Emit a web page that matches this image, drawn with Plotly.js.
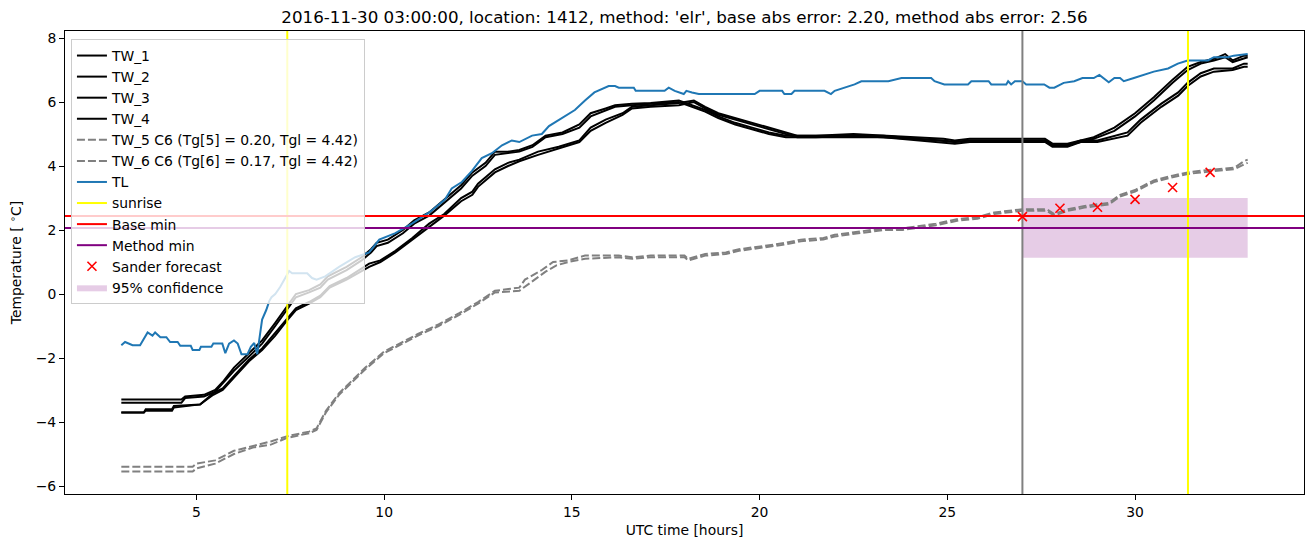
<!DOCTYPE html>
<html>
<head>
<meta charset="utf-8">
<script src="https://cdn.plot.ly/plotly-3.0.1.min.js"></script>
<style>html,body{margin:0;padding:0;background:#fff;}#chart{width:1313px;height:547px;}</style>
</head>
<body>
<div id="chart"></div>
<script>
// ---- data: [hour, temperature] ----
const TW_1 = [[3,-3.3],[4.6,-3.3],[4.7,-3.2],[5.2,-3.15],[5.5,-3.0],[5.7,-2.75],[6.0,-2.3],[6.4,-1.85],[6.75,-1.45],[7.1,-0.9],[7.4,-0.4],[7.65,0.0],[8.0,0.12],[8.3,0.3],[8.5,0.55],[9.0,0.85],[9.4,1.15],[9.65,1.4],[9.8,1.6],[10.1,1.7],[10.5,2.0],[10.8,2.3],[11.2,2.55],[11.6,2.95],[12.05,3.4],[12.35,3.8],[12.7,4.1],[12.95,4.45],[13.3,4.45],[13.6,4.5],[13.95,4.65],[14.3,4.95],[14.75,5.05],[15.2,5.3],[15.5,5.65],[15.9,5.8],[16.15,5.9],[16.6,5.95],[17.1,5.97],[17.85,6.05],[18.2,5.9],[18.55,5.75],[18.9,5.55],[19.35,5.35],[19.8,5.2],[20.25,5.05],[20.7,4.95],[21.5,4.95],[22.5,5.0],[23.3,4.95],[24.9,4.85],[25.2,4.8],[25.6,4.85],[27.6,4.85],[27.8,4.7],[28.2,4.7],[28.55,4.8],[28.9,4.9],[29.45,5.2],[30.0,5.65],[30.5,6.15],[31.0,6.7],[31.4,7.1],[31.75,7.25],[32.1,7.35],[32.4,7.5],[32.6,7.3],[32.9,7.45],[33.0,7.45]];
const TW_2 = [[3,-3.4],[4.6,-3.4],[4.7,-3.25],[5.2,-3.2],[5.5,-3.05],[5.7,-2.8],[6.0,-2.4],[6.4,-1.95],[6.75,-1.55],[7.1,-1.0],[7.4,-0.5],[7.65,-0.1],[8.0,0.05],[8.3,0.2],[8.5,0.45],[9.0,0.75],[9.4,1.05],[9.65,1.3],[9.8,1.5],[10.1,1.6],[10.5,1.9],[10.8,2.2],[11.2,2.45],[11.6,2.85],[12.05,3.3],[12.35,3.7],[12.7,4.0],[12.95,4.35],[13.3,4.4],[13.6,4.45],[13.95,4.6],[14.3,4.9],[14.75,5.0],[15.2,5.2],[15.5,5.55],[15.9,5.75],[16.15,5.85],[16.6,5.9],[17.1,5.95],[17.85,6.0],[18.2,5.85],[18.55,5.7],[18.9,5.5],[19.35,5.3],[19.8,5.15],[20.25,5.0],[20.7,4.9],[21.5,4.9],[22.5,4.95],[23.3,4.9],[24.9,4.8],[25.2,4.75],[25.6,4.8],[27.6,4.8],[27.8,4.65],[28.2,4.65],[28.55,4.75],[28.9,4.85],[29.45,5.1],[30.0,5.55],[30.5,6.05],[31.0,6.6],[31.4,7.0],[31.75,7.2],[32.1,7.3],[32.4,7.4],[32.6,7.25],[32.9,7.35],[33.0,7.4]];
const TW_3 = [[3,-3.7],[3.6,-3.7],[3.65,-3.6],[4.35,-3.6],[4.4,-3.5],[5.1,-3.45],[5.45,-3.1],[5.7,-2.95],[6.05,-2.5],[6.4,-2.05],[6.75,-1.7],[7.1,-1.2],[7.4,-0.8],[7.65,-0.45],[8.0,-0.25],[8.3,-0.05],[8.55,0.25],[9.0,0.5],[9.6,0.95],[9.9,1.05],[10.3,1.35],[10.75,1.75],[11.2,2.2],[11.6,2.5],[12.05,3.0],[12.35,3.2],[12.5,3.45],[12.95,3.9],[13.3,4.1],[13.6,4.2],[14.1,4.45],[14.65,4.6],[15.2,4.8],[15.5,5.2],[15.9,5.45],[16.35,5.65],[16.6,5.85],[17.1,5.9],[17.85,5.97],[18.25,6.05],[18.55,5.85],[18.9,5.65],[19.35,5.5],[19.8,5.35],[20.25,5.2],[20.7,5.05],[21.0,4.95],[23.3,4.95],[24.9,4.8],[25.2,4.75],[25.6,4.8],[27.6,4.8],[27.8,4.65],[28.2,4.65],[28.55,4.8],[29.0,4.8],[29.8,5.05],[30.15,5.45],[30.7,5.95],[31.15,6.3],[31.4,6.6],[31.75,6.9],[32.1,7.05],[32.6,7.05],[32.9,7.2],[33.0,7.2]];
const TW_4 = [[3,-3.7],[3.6,-3.7],[3.65,-3.65],[4.35,-3.65],[4.4,-3.55],[5.1,-3.45],[5.45,-3.15],[5.7,-3.0],[6.05,-2.55],[6.4,-2.1],[6.75,-1.75],[7.1,-1.3],[7.4,-0.85],[7.65,-0.5],[8.0,-0.3],[8.3,-0.1],[8.55,0.2],[9.0,0.45],[9.6,0.85],[9.9,1.0],[10.3,1.3],[10.75,1.7],[11.2,2.1],[11.6,2.45],[12.05,2.9],[12.35,3.1],[12.5,3.35],[12.95,3.8],[13.3,4.0],[13.6,4.15],[14.1,4.35],[14.65,4.55],[15.2,4.75],[15.5,5.1],[15.9,5.35],[16.35,5.6],[16.6,5.8],[17.1,5.85],[17.85,5.9],[18.25,6.0],[18.55,5.8],[18.9,5.6],[19.35,5.45],[19.8,5.3],[20.25,5.15],[20.7,5.0],[21.0,4.9],[23.3,4.9],[24.9,4.75],[25.2,4.7],[25.6,4.75],[27.6,4.75],[27.8,4.6],[28.2,4.6],[28.55,4.75],[29.0,4.75],[29.8,4.95],[30.15,5.35],[30.7,5.85],[31.15,6.2],[31.4,6.5],[31.75,6.8],[32.1,6.95],[32.6,7.0],[32.9,7.1],[33.0,7.1]];
const TW_5 = [[3,-5.4],[4.9,-5.4],[5.0,-5.3],[5.5,-5.2],[6.0,-4.9],[6.5,-4.75],[7.0,-4.6],[7.4,-4.45],[8.0,-4.3],[8.2,-4.2],[8.45,-3.65],[8.8,-3.1],[9.15,-2.7],[9.5,-2.3],[10.0,-1.8],[10.5,-1.5],[10.9,-1.25],[11.45,-0.95],[12.0,-0.6],[12.5,-0.25],[12.95,0.1],[13.6,0.2],[13.75,0.45],[14.2,0.75],[14.5,1.0],[14.9,1.05],[15.35,1.2],[16.25,1.2],[16.6,1.15],[17.1,1.2],[18.0,1.2],[18.1,1.1],[18.55,1.25],[19.1,1.3],[19.45,1.4],[20.1,1.5],[20.7,1.6],[21.1,1.7],[21.7,1.75],[22.0,1.85],[22.6,1.95],[23.3,2.05],[23.8,2.05],[24.7,2.2],[25.3,2.35],[25.8,2.4],[26.25,2.55],[26.7,2.6],[27.0,2.65],[27.65,2.65],[27.85,2.5],[28.2,2.65],[28.65,2.75],[29.3,2.85],[29.6,3.1],[30.0,3.25],[30.5,3.55],[31.0,3.7],[31.4,3.8],[31.75,3.85],[32.3,3.9],[32.65,3.95],[32.9,4.15],[33.0,4.2]];
const TW_6 = [[3,-5.55],[4.9,-5.55],[5.0,-5.45],[5.5,-5.3],[6.0,-5.0],[6.5,-4.8],[7.0,-4.7],[7.4,-4.5],[8.0,-4.35],[8.2,-4.25],[8.45,-3.7],[8.8,-3.15],[9.15,-2.75],[9.5,-2.35],[10.0,-1.85],[10.5,-1.55],[10.9,-1.3],[11.45,-1.0],[12.0,-0.65],[12.5,-0.3],[12.95,0.05],[13.6,0.1],[13.9,0.35],[14.3,0.7],[14.6,0.9],[14.9,1.0],[15.35,1.1],[16.25,1.15],[16.6,1.1],[17.1,1.15],[18.0,1.15],[18.1,1.05],[18.55,1.2],[19.1,1.25],[19.45,1.35],[20.1,1.45],[20.7,1.55],[21.1,1.65],[21.7,1.7],[22.0,1.8],[22.6,1.9],[23.3,2.0],[23.8,2.0],[24.7,2.15],[25.3,2.3],[25.8,2.35],[26.25,2.5],[26.7,2.55],[27.0,2.6],[27.65,2.6],[27.85,2.45],[28.2,2.6],[28.65,2.7],[29.3,2.8],[29.6,3.05],[30.0,3.2],[30.5,3.5],[31.0,3.65],[31.4,3.75],[31.75,3.8],[32.3,3.85],[32.65,3.9],[32.9,4.05],[33.0,4.1]];
const TL = [[3.0,-1.6],[3.1,-1.5],[3.3,-1.6],[3.5,-1.6],[3.7,-1.2],[3.83,-1.3],[3.9,-1.2],[4.04,-1.35],[4.2,-1.35],[4.3,-1.5],[4.5,-1.5],[4.57,-1.62],[4.85,-1.62],[4.9,-1.75],[5.08,-1.75],[5.12,-1.65],[5.4,-1.65],[5.45,-1.55],[5.69,-1.55],[5.77,-1.85],[5.87,-1.55],[6.0,-1.45],[6.1,-1.55],[6.2,-1.88],[6.36,-1.88],[6.45,-1.65],[6.54,-1.53],[6.62,-1.88],[6.75,-0.8],[6.86,-0.5],[6.94,-0.22],[7.0,-0.1],[7.1,0.0],[7.23,0.22],[7.47,0.72],[7.55,0.65],[7.95,0.65],[8.08,0.5],[8.2,0.45],[8.43,0.55],[8.8,0.85],[9.23,1.15],[9.6,1.3],[9.87,1.7],[10.3,1.9],[10.74,2.2],[11.2,2.55],[11.62,2.95],[11.8,3.3],[12.07,3.5],[12.34,3.85],[12.6,4.25],[12.87,4.4],[13.14,4.65],[13.4,4.8],[13.6,4.75],[13.94,4.95],[14.2,5.0],[14.39,5.25],[14.73,5.5],[15.08,5.75],[15.35,6.05],[15.6,6.3],[15.98,6.5],[16.15,6.5],[16.25,6.45],[16.65,6.45],[16.7,6.35],[17.47,6.35],[17.58,6.45],[17.74,6.35],[17.98,6.25],[18.05,6.35],[18.2,6.3],[18.38,6.25],[19.87,6.25],[20.0,6.35],[20.6,6.35],[20.66,6.25],[20.85,6.25],[20.93,6.35],[21.73,6.35],[21.9,6.25],[22.0,6.35],[22.26,6.45],[22.53,6.55],[22.71,6.65],[23.43,6.65],[23.78,6.75],[24.57,6.75],[24.66,6.65],[24.92,6.55],[25.55,6.55],[25.64,6.65],[26.1,6.65],[26.17,6.55],[26.57,6.55],[26.62,6.65],[26.7,6.55],[26.8,6.65],[27.0,6.65],[27.1,6.55],[27.58,6.55],[27.72,6.45],[27.85,6.45],[28.1,6.6],[28.38,6.65],[28.6,6.75],[28.9,6.75],[29.05,6.85],[29.3,6.62],[29.45,6.75],[29.6,6.75],[29.7,6.65],[29.97,6.75],[30.24,6.85],[30.5,6.95],[30.88,7.05],[31.14,7.2],[31.4,7.3],[31.94,7.3],[32.1,7.4],[32.47,7.4],[32.63,7.45],[32.9,7.5],[33.0,7.5]];
const sunriseHours = [7.42, 31.41];
const forecastStart = 27.0;
const baseMin = 2.44;
const methodMin = 2.06;
const forecastHours = [27, 28, 29, 30, 31, 32];
const forecastValues = [2.42, 2.68, 2.71, 2.96, 3.33, 3.80];
const confHours = [27, 33];
const confLow = 1.13;
const confHigh = 3.0;

const xRange = [1.5, 34.5];
const yRange = [-6.25, 8.22];
const FONT = 'DejaVu Sans, Liberation Sans, sans-serif';

const xs = s => s.map(p => p[0]);
const ys = s => s.map(p => p[1]);

const traces = [];
// 95% confidence band (drawn first, listed last)
traces.push({
  x: [confHours[0], confHours[1], confHours[1], confHours[0], confHours[0]],
  y: [confLow, confLow, confHigh, confHigh, confLow],
  mode: 'lines', fill: 'toself', fillcolor: 'rgba(128,0,128,0.2)',
  line: {width: 0, color: 'rgba(128,0,128,0)'},
  name: '95% confidence', legendrank: 12
});
const twSeries = [['TW_1', TW_1], ['TW_2', TW_2], ['TW_3', TW_3], ['TW_4', TW_4]];
twSeries.forEach((s, i) => traces.push({
  x: xs(s[1]), y: ys(s[1]), mode: 'lines', name: s[0],
  line: {color: 'black', width: 2}, legendrank: i + 1
}));
traces.push({x: xs(TW_5), y: ys(TW_5), mode: 'lines', name: 'TW_5 C6 (Tg[5] = 0.20, Tgl = 4.42)',
  line: {color: 'grey', width: 2, dash: '8px,3px'}, legendrank: 5});
traces.push({x: xs(TW_6), y: ys(TW_6), mode: 'lines', name: 'TW_6 C6 (Tg[6] = 0.17, Tgl = 4.42)',
  line: {color: 'grey', width: 2, dash: '8px,3px'}, legendrank: 6});
traces.push({x: xs(TL), y: ys(TL), mode: 'lines', name: 'TL',
  line: {color: '#1f77b4', width: 2}, legendrank: 7});
// sunrise verticals
const sx = [], sy = [];
sunriseHours.forEach(h => { sx.push(h, h, null); sy.push(yRange[0], yRange[1], null); });
traces.push({x: sx, y: sy, mode: 'lines', name: 'sunrise', line: {color: 'yellow', width: 2}, legendrank: 8});
// forecast start vertical
traces.push({x: [forecastStart, forecastStart], y: yRange, mode: 'lines', showlegend: false,
  line: {color: 'grey', width: 2}});
traces.push({x: xRange, y: [baseMin, baseMin], mode: 'lines', name: 'Base min',
  line: {color: 'red', width: 2}, legendrank: 9});
traces.push({x: xRange, y: [methodMin, methodMin], mode: 'lines', name: 'Method min',
  line: {color: 'purple', width: 2}, legendrank: 10});
traces.push({x: forecastHours, y: forecastValues, mode: 'markers', name: 'Sander forecast',
  marker: {symbol: 'x-thin', size: 9, color: 'red', line: {color: 'red', width: 1.6}}, legendrank: 11});

const axisCommon = {
  showline: true, mirror: true, linecolor: 'black', linewidth: 1,
  ticks: 'outside', ticklen: 5, tickwidth: 1, tickcolor: 'black',
  showgrid: false, zeroline: false,
  tickfont: {family: FONT, size: 13.9, color: 'black'}
};

const layout = {
  width: 1313, height: 547,
  margin: {l: 65, r: 9, t: 31, b: 53},
  paper_bgcolor: 'white', plot_bgcolor: 'white',
  font: {family: FONT, color: 'black'},
  title: {text: "2016-11-30 03:00:00, location: 1412, method: 'elr', base abs error: 2.20, method abs error: 2.56",
    font: {family: FONT, size: 16.7, color: 'black'}, x: 0.5, xref: 'paper', xanchor: 'center',
    y: 1 - 17 / 547, yref: 'container', yanchor: 'middle'},
  xaxis: Object.assign({}, axisCommon, {range: xRange, tickvals: [5, 10, 15, 20, 25, 30],
    title: {text: 'UTC time [hours]', font: {family: FONT, size: 13.9, color: 'black'}, standoff: 6}}),
  yaxis: Object.assign({}, axisCommon, {range: yRange, tickvals: [-6, -4, -2, 0, 2, 4, 6, 8],
    title: {text: 'Temperature [ <sup>∘</sup>C]', font: {family: FONT, size: 13.9, color: 'black'}, standoff: 10}}),
  legend: {x: 0.0048, y: 0.9827, xanchor: 'left', yanchor: 'top',
    bgcolor: 'rgba(255,255,255,0.8)', bordercolor: '#cccccc', borderwidth: 1,
    font: {family: FONT, size: 13.9, color: 'black'}, traceorder: 'normal'},
  showlegend: true
};

Plotly.newPlot('chart', traces, layout, {displayModeBar: false, staticPlot: true});
</script>
</body>
</html>
